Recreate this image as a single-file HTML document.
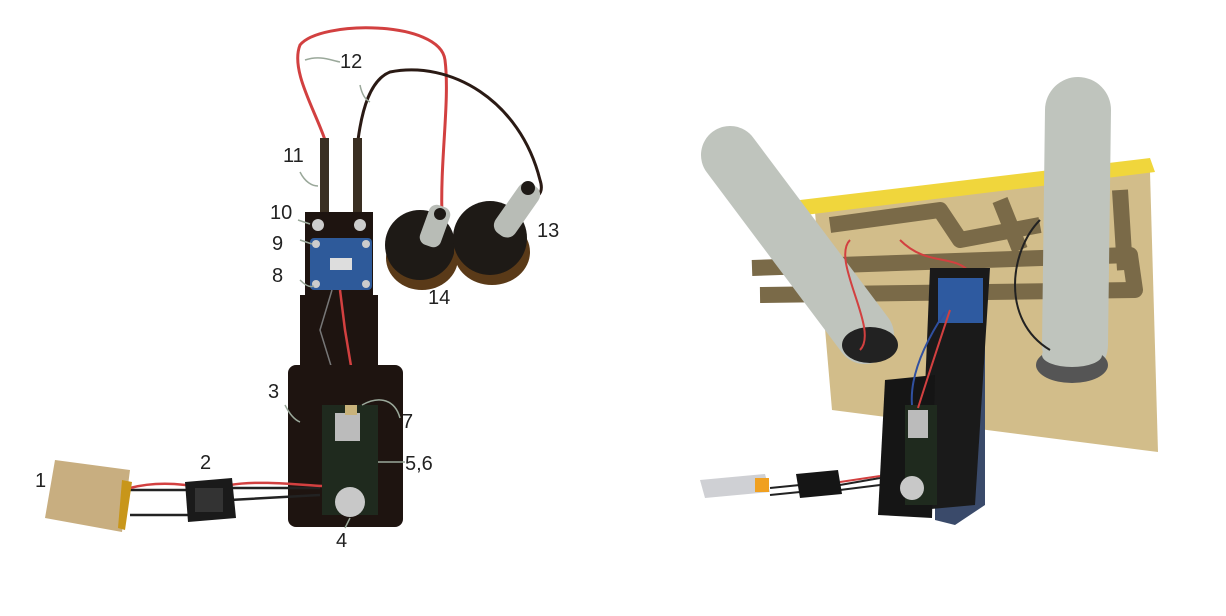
<!DOCTYPE html>
<html><head><meta charset="utf-8"><style>
html,body{margin:0;padding:0;background:#fff;}
svg{display:block;}
text{font-family:"Liberation Sans",sans-serif;font-size:20px;fill:#222;}
</style></head><body>
<svg width="1226" height="616" viewBox="0 0 1226 616">
<!-- LEFT: exploded view -->
<g>
  <!-- wires top -->
  <path d="M325 140 C315 110 290 70 300 45 C320 20 440 20 445 60 C450 100 440 160 442 215" stroke="#d24040" stroke-width="3" fill="none"/>
  <path d="M358 140 C362 110 370 80 390 72 C450 60 520 100 540 180 C545 195 535 200 525 198" stroke="#2a1a14" stroke-width="3" fill="none"/>
  <rect x="320" y="138" width="9" height="95" fill="#3a2f22"/>
  <rect x="353" y="138" width="9" height="95" fill="#3a2f22"/>
  <!-- motors -->
  <g>
    <ellipse cx="422" cy="258" rx="36" ry="32" fill="#5a3a18"/>
    <circle cx="420" cy="245" r="35" fill="#1e1a16"/>
    <ellipse cx="492" cy="252" rx="38" ry="33" fill="#5a3a18"/>
    <circle cx="490" cy="238" r="37" fill="#1e1a16"/>
    <rect x="424" y="205" width="22" height="42" rx="8" fill="#b8bcb6" transform="rotate(20 435 226)"/>
    <rect x="505" y="180" width="24" height="60" rx="10" fill="#b8bcb6" transform="rotate(35 517 210)"/>
    <circle cx="440" cy="214" r="6" fill="#1e1a16"/>
    <circle cx="528" cy="188" r="7" fill="#1e1a16"/>
  </g>
  <!-- frame -->
  <rect x="305" y="212" width="68" height="90" fill="#1e1410"/>
  <circle cx="318" cy="225" r="6" fill="#ccc"/><circle cx="360" cy="225" r="6" fill="#ccc"/>
  <rect x="300" y="295" width="78" height="80" fill="#1e1410"/>
  <rect x="310" y="238" width="62" height="52" rx="4" fill="#2e5a9a"/>
  <rect x="330" y="258" width="22" height="12" fill="#ddd"/>
  <circle cx="316" cy="244" r="4" fill="#ccc"/><circle cx="366" cy="244" r="4" fill="#ccc"/>
  <circle cx="316" cy="284" r="4" fill="#ccc"/><circle cx="366" cy="284" r="4" fill="#ccc"/>
  <path d="M340 290 L345 330 L355 390" stroke="#d24040" stroke-width="2.5" fill="none"/>
  <path d="M332 290 L320 330 L340 395" stroke="#777" stroke-width="1.5" fill="none"/>
  <rect x="288" y="365" width="115" height="162" rx="8" fill="#1e1410"/>
  <rect x="322" y="405" width="56" height="110" fill="#1f2a1e"/>
  <rect x="335" y="413" width="25" height="28" fill="#bbb"/>
  <rect x="345" y="405" width="12" height="10" fill="#c8b27a"/>
  <circle cx="350" cy="502" r="15" fill="#c8c8c8"/>
  <!-- battery + switch -->
  <path d="M130 490 L205 490 M130 515 L205 515 M230 488 L320 488 M230 500 L320 495" stroke="#222" stroke-width="2.5" fill="none"/>
  <path d="M130 488 C160 480 190 485 205 488 M230 485 C260 480 300 485 322 486" stroke="#d24040" stroke-width="2.5" fill="none"/>
  <polygon points="55,460 130,470 122,532 45,518" fill="#c8ae80"/>
  <polygon points="122,480 132,482 125,530 118,528" fill="#c8961a"/>
  <polygon points="185,482 232,478 236,518 188,522" fill="#1a1a1a"/>
  <rect x="195" y="488" width="28" height="24" fill="#333"/>
  <!-- labels -->
  <g>
    <text x="35" y="487">1</text><text x="200" y="469">2</text>
    <text x="268" y="398">3</text><text x="336" y="547">4</text>
    <text x="405" y="470">5,6</text><text x="402" y="428">7</text>
    <text x="272" y="282">8</text><text x="272" y="250">9</text>
    <text x="270" y="219">10</text><text x="283" y="162">11</text>
    <text x="340" y="68">12</text><text x="537" y="237">13</text>
    <text x="428" y="304">14</text>
  </g>
  <g stroke="#9aa89a" stroke-width="1.5" fill="none">
    <path d="M305 60 C320 55 330 60 340 62"/><path d="M360 85 C362 95 366 100 370 102"/>
    <path d="M300 172 C305 182 312 186 318 186"/><path d="M298 220 L310 224"/>
    <path d="M300 240 L312 244"/><path d="M300 280 C305 285 310 288 314 286"/>
    <path d="M285 405 C290 415 295 420 300 422"/><path d="M400 418 C395 400 380 395 362 405"/>
    <path d="M405 462 L378 462"/><path d="M345 528 L350 518"/>
  </g>
</g>
<!-- RIGHT: assembled view -->
<g>
  <polygon points="815,212 1150,172 1158,452 832,410" fill="#d2bd8a"/>
  <polygon points="800,200 1150,158 1155,172 805,215" fill="#f0d63c"/>
  <g stroke="#7a6a48" stroke-width="16" fill="none" stroke-linejoin="round">
    <path d="M752 268 L1130 255 L1135 290 L760 295"/>
    <path d="M830 225 L940 210 L960 240 L1040 225"/>
    <path d="M1000 200 L1020 250 M1120 190 L1125 270"/>
  </g>
  <g>
    <line x1="730" y1="155" x2="865" y2="335" stroke="#bfc4bd" stroke-width="58" stroke-linecap="round"/>
    <line x1="1078" y1="110" x2="1075" y2="345" stroke="#bfc4bd" stroke-width="66" stroke-linecap="round"/>
    <ellipse cx="870" cy="345" rx="28" ry="18" fill="#222"/>
    <ellipse cx="1072" cy="365" rx="36" ry="18" fill="#555"/>
    <ellipse cx="1072" cy="355" rx="30" ry="12" fill="#bfc4bd"/>
  </g>
  <path d="M850 240 C830 260 880 330 860 350 M900 240 C930 270 960 250 975 280" stroke="#d24040" stroke-width="2" fill="none"/>
  <path d="M1040 220 C1010 250 1000 320 1050 350" stroke="#222" stroke-width="2" fill="none"/>
  <g>
    <polygon points="935,280 985,285 985,505 955,525 935,520" fill="#3a4a6a"/>
    <polygon points="930,268 990,268 975,505 920,510" fill="#1a1a1a"/>
    <polygon points="885,380 935,375 932,518 878,515" fill="#151515"/>
    <rect x="938" y="278" width="45" height="45" fill="#2e5aa0"/>
    <rect x="905" y="405" width="32" height="100" fill="#1f2a1e"/>
    <rect x="908" y="410" width="20" height="28" fill="#bbb"/>
    <circle cx="912" cy="488" r="12" fill="#c8c8c8"/>
    <path d="M950 310 C940 340 930 370 918 408" stroke="#d24040" stroke-width="2" fill="none"/>
    <path d="M945 312 C920 350 910 380 912 405" stroke="#3050a0" stroke-width="2" fill="none"/>
  </g>
  <path d="M770 488 L800 485 M840 485 L880 478 M770 495 L800 492 M840 490 L880 485" stroke="#222" stroke-width="2" fill="none"/>
  <path d="M840 482 L880 476" stroke="#d24040" stroke-width="2"/>
  <polygon points="700,480 765,474 770,492 705,498" fill="#cfd0d4"/>
  <rect x="755" y="478" width="14" height="14" fill="#f0a020"/>
  <polygon points="796,474 838,470 842,494 800,498" fill="#151515"/>
</g>
</svg>
</body></html>
